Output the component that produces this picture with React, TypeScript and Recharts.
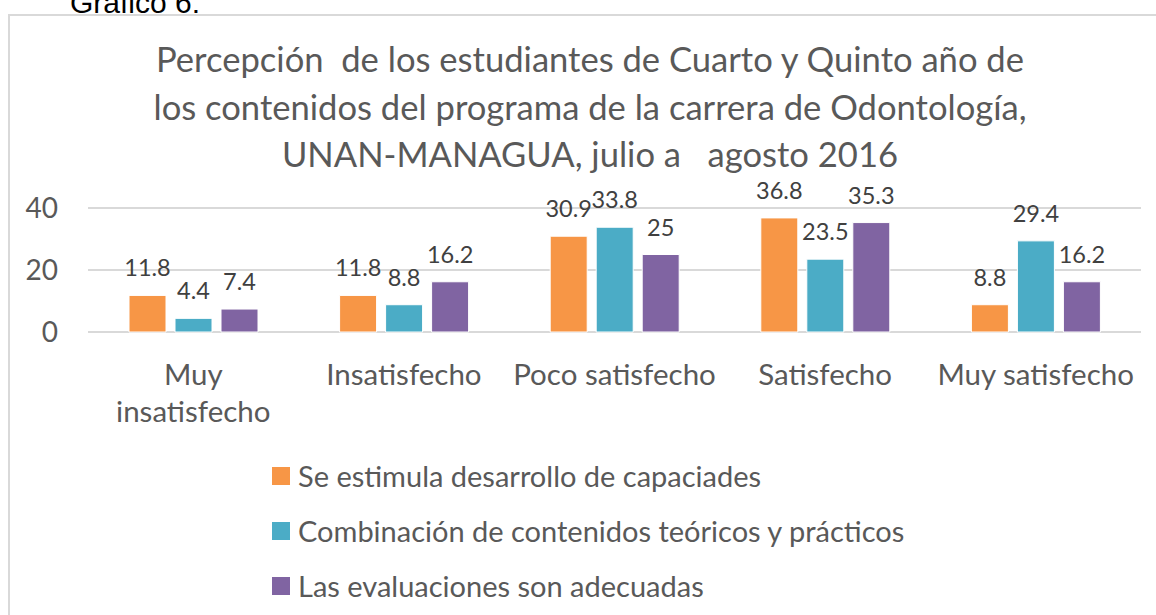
import React from "react";
import { BarChart, Bar, XAxis, YAxis, CartesianGrid, Legend, LabelList } from "recharts";

const categories = ["Muy insatisfecho", "Insatisfecho", "Poco satisfecho", "Satisfecho", "Muy satisfecho"];
const capacidades = [11.8, 11.8, 30.9, 36.8, 8.8];
const combinacion = [4.4, 8.8, 33.8, 23.5, 29.4];
const evaluaciones = [7.4, 16.2, 25, 35.3, 16.2];
const yTicks = [0, 20, 40];
const seriesNames = [
  "Se estimula desarrollo de capaciades",
  "Combinación de contenidos teóricos y prácticos",
  "Las evaluaciones son adecuadas",
];
const titleLines = [
  "Percepción  de los estudiantes de Cuarto y Quinto año de",
  "los contenidos del programa de la carrera de Odontología,",
  "UNAN-MANAGUA, julio a   agosto 2016",
];

const COLORS = ["#F79646", "#4BACC6", "#8064A2"];
const TEXT = "#595959";
const FONT = "Lato, 'Open Sans', sans-serif";

const data = categories.map((name, i) => ({
  name,
  capacidades: capacidades[i],
  combinacion: combinacion[i],
  evaluaciones: evaluaciones[i],
}));

// long category names break onto two lines, like the original
function CategoryTick({ x, y, payload }: any) {
  const label: string = payload.value;
  const lines = label.length > 15 ? [label.slice(0, label.indexOf(" ")), label.slice(label.indexOf(" ") + 1)] : [label];
  return (
    <text x={x} y={y} textAnchor="middle" fill={TEXT} fontSize={29.5} fontFamily={FONT}>
      {lines.map((l, i) => (
        <tspan key={i} x={x} dy={i === 0 ? 53 : 37}>{l}</tspan>
      ))}
    </text>
  );
}

// keep series order (Recharts sorts legend items by name)
function LegendList({ payload }: any) {
  const items = [...(payload || [])].sort((a: any, b: any) => seriesNames.indexOf(a.value) - seriesNames.indexOf(b.value));
  return (
    <div style={{ fontFamily: FONT, fontSize: 29, color: TEXT }}>
      {items.map((p: any, i: number) => (
        <div key={i} style={{ display: "flex", alignItems: "center", height: 55 }}>
          <span style={{ width: 18, height: 18, background: p.color, marginRight: 8, display: "inline-block" }} />
          <span style={{ whiteSpace: "nowrap" }}>{p.value}</span>
        </div>
      ))}
    </div>
  );
}

export default function App() {
  return (
    <div style={{ position: "absolute", left: 0, top: 0, width: 1156, height: 615, overflow: "hidden", background: "#fff" }}>
      <div style={{ position: "absolute", left: 8, top: 14, width: 1170, height: 640, border: "2px solid #d9d9d9", boxSizing: "border-box" }} />
      <svg width={1156} height={615} style={{ position: "absolute", left: 0, top: 0 }}>
        <text x={70} y={13} fontFamily="'Liberation Sans', Arial, sans-serif" fontSize={30} fill="#000">Gráfico 6:</text>
        {titleLines.map((t, i) => (
          <text key={i} x={590} y={72 + i * 47.5} textAnchor="middle" fontFamily={FONT} fontSize={34.6} fill={TEXT} style={{ whiteSpace: "pre" }}>
            {t}
          </text>
        ))}
      </svg>
      <div style={{ position: "absolute", left: 0, top: 0 }}>
        <BarChart
          width={1156}
          height={615}
          data={data}
          margin={{ top: 208, right: 15, left: 0, bottom: 223 }}
          barSize={37}
          barGap={9}
          style={{ fontFamily: FONT }}
        >
          <CartesianGrid vertical={false} stroke="#d9d9d9" strokeWidth={2} />
          <XAxis dataKey="name" height={60} axisLine={false} tickLine={false} tickSize={0} tickMargin={0} interval={0} tick={<CategoryTick />} />
          <YAxis
            width={88}
            domain={[0, 40]}
            ticks={yTicks}
            axisLine={false}
            tickLine={false}
            tickSize={0}
            tickMargin={30}
            tick={{ fill: TEXT, fontSize: 28, fontFamily: FONT }}
          />
          <Legend
            layout="vertical"
            align="center"
            verticalAlign="middle"
            wrapperStyle={{ top: 448, left: 272, width: 700 }}
            content={<LegendList />}
          />
          {(["capacidades", "combinacion", "evaluaciones"] as const).map((key, i) => (
            <Bar key={key} dataKey={key} name={seriesNames[i]} fill={COLORS[i]} stroke="#fff" strokeWidth={1} isAnimationActive={false}>
              <LabelList dataKey={key} position="top" offset={19} fill="#404040" fontSize={23.5} fontFamily={FONT} />
            </Bar>
          ))}
        </BarChart>
      </div>
    </div>
  );
}
